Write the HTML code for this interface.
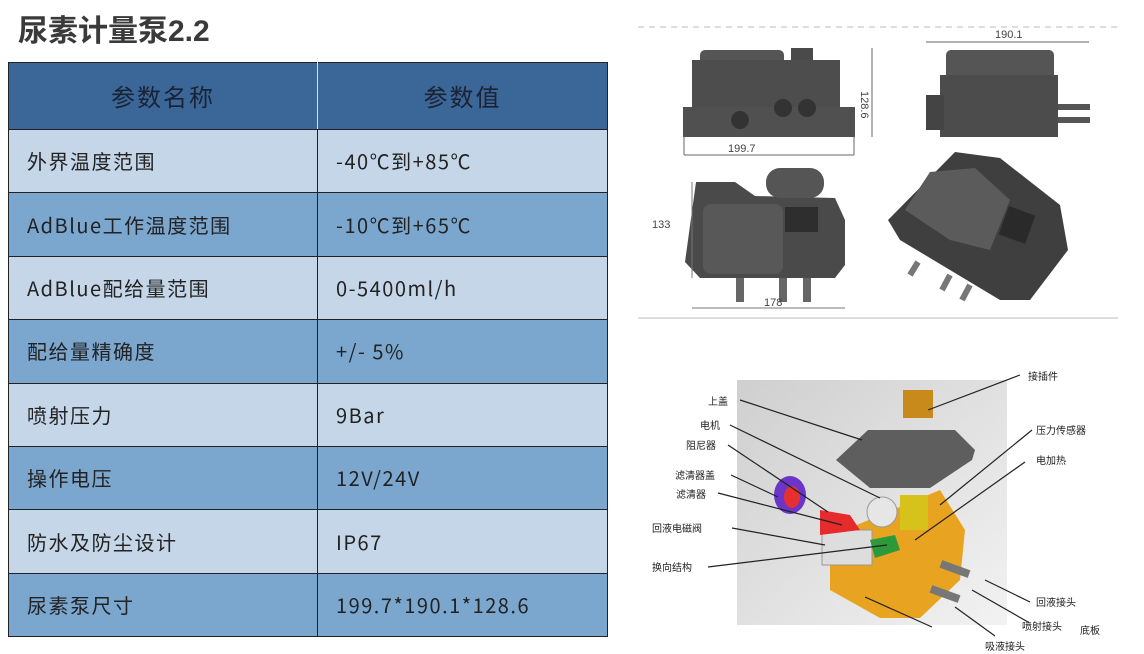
<!DOCTYPE html>
<html><head><meta charset="utf-8"><style>
body{margin:0;width:1144px;height:654px;background:#fff;overflow:hidden;position:relative;font-family:"Liberation Sans","Noto Sans CJK SC",sans-serif}
h1{position:absolute;left:18px;top:6px;margin:0;font-size:30px;font-weight:bold;color:#3a3a3a;letter-spacing:0}
table{position:absolute;left:8px;top:62px;border-collapse:collapse;width:600px}
td{border:1.5px solid #222;height:62.4px;font-size:20px;line-height:24px;vertical-align:middle;color:#222;letter-spacing:1.5px;padding:0 0 0 18px;font-family:"Noto Sans CJK SC",sans-serif}
td:first-child{width:290px}
tr.h td{background:#3a6698;height:66px;text-align:center;font-size:24px;padding:0;color:#1a2233;letter-spacing:2px}
tr.h td:first-child{border-right:1px solid #ddd}
tr.l td{background:#c5d6e8}
tr.m td{background:#7ba7cf}
svg{position:absolute;left:0;top:0}
</style></head><body>
<h1>尿素计量泵2.2</h1>
<table>
<tr class="h"><td>参数名称</td><td>参数值</td></tr>
<tr class="l"><td>外界温度范围</td><td>-40℃到+85℃</td></tr>
<tr class="m"><td>AdBlue工作温度范围</td><td>-10℃到+65℃</td></tr>
<tr class="l"><td>AdBlue配给量范围</td><td>0-5400ml/h</td></tr>
<tr class="m"><td>配给量精确度</td><td>+/- 5%</td></tr>
<tr class="l"><td>喷射压力</td><td>9Bar</td></tr>
<tr class="m"><td>操作电压</td><td>12V/24V</td></tr>
<tr class="l"><td>防水及防尘设计</td><td>IP67</td></tr>
<tr class="m"><td>尿素泵尺寸</td><td>199.7*190.1*128.6</td></tr>
</table>
<svg width="1144" height="654" font-family="Liberation Sans,Noto Sans CJK SC,sans-serif">
<line x1="638" y1="27" x2="1118" y2="27" stroke="#bbb" stroke-dasharray="6,5"/>
<line x1="638" y1="318" x2="1118" y2="318" stroke="#ddd" stroke-width="2"/>
<rect x="700" y="50" width="84" height="40" rx="5" fill="#555"/>
<rect x="791" y="48" width="22" height="20" fill="#4a4a4a"/>
<rect x="692" y="60" width="148" height="50" fill="#4d4d4d"/>
<rect x="683" y="107" width="172" height="30" fill="#505050"/>
<circle cx="740" cy="120" r="9" fill="#333"/><circle cx="783" cy="108" r="9" fill="#333"/><circle cx="807" cy="108" r="9" fill="#333"/>
<line x1="684" y1="155" x2="854" y2="155" stroke="#666"/><line x1="684" y1="137" x2="684" y2="155" stroke="#666"/><line x1="854" y1="137" x2="854" y2="155" stroke="#666"/>
<text x="728" y="152" font-size="11" fill="#444">199.7</text>
<line x1="872" y1="48" x2="872" y2="137" stroke="#666"/><text x="862" y="100" font-size="11" fill="#444" transform="rotate(90 866 95)">128.6</text>
<rect x="946" y="50" width="108" height="40" rx="5" fill="#555"/>
<rect x="940" y="75" width="118" height="62" fill="#4c4c4c"/>
<rect x="926" y="95" width="18" height="35" fill="#444"/>
<rect x="1058" y="104" width="32" height="6" fill="#555"/><rect x="1058" y="117" width="32" height="6" fill="#555"/>
<line x1="926" y1="42" x2="1089" y2="42" stroke="#666"/><text x="995" y="38" font-size="11" fill="#444">190.1</text>
<path d="M696 182 L735 182 L755 196 L835 198 L845 220 L845 265 L835 278 L700 278 L685 262 Z" fill="#4a4a4a"/>
<rect x="766" y="168" width="58" height="30" rx="14" fill="#555"/>
<rect x="703" y="204" width="80" height="70" rx="8" fill="#585858"/>
<rect x="785" y="207" width="33" height="25" fill="#2e2e2e"/>
<rect x="736" y="278" width="8" height="24" fill="#666"/><rect x="779" y="278" width="8" height="24" fill="#666"/><rect x="803" y="278" width="8" height="24" fill="#666"/>
<line x1="692" y1="182" x2="692" y2="278" stroke="#777"/><text x="652" y="228" font-size="11" fill="#444">133</text>
<line x1="692" y1="308" x2="845" y2="308" stroke="#777"/><text x="764" y="306" font-size="11" fill="#444">178</text>
<path d="M955 152 L1000 158 L1060 205 L1068 250 L1030 300 L1000 300 L900 240 L888 220 Z" fill="#3f3f3f"/>
<path d="M930 172 L975 168 L1010 200 L990 250 L950 240 L905 210 Z" fill="#5b5b5b"/>
<rect x="1003" y="210" width="28" height="30" fill="#2a2a2a" transform="rotate(20 1017 225)"/>
<line x1="918" y1="262" x2="910" y2="275" stroke="#777" stroke-width="6"/><line x1="950" y1="275" x2="942" y2="290" stroke="#777" stroke-width="6"/><line x1="970" y1="285" x2="962" y2="300" stroke="#777" stroke-width="6"/>
<defs><linearGradient id="g" x1="0" y1="0" x2="1" y2="1"><stop offset="0" stop-color="#cfcfcf"/><stop offset="1" stop-color="#f2f2f2"/></linearGradient></defs>
<rect x="737" y="380" width="270" height="245" fill="url(#g)"/>
<path d="M836 460 L868 430 L955 430 L975 450 L972 460 L930 488 L870 488 Z" fill="#5e5e5e"/>
<rect x="903" y="390" width="30" height="28" fill="#c98a1c"/>
<path d="M830 550 L840 532 L940 490 L965 530 L960 580 L920 618 L880 618 L830 590 Z" fill="#e8a420"/>
<rect x="822" y="530" width="50" height="35" fill="#ddd" stroke="#999"/>
<circle cx="882" cy="512" r="15" fill="#e6e6e6" stroke="#999"/>
<rect x="900" y="495" width="28" height="35" fill="#d6c21a"/>
<ellipse cx="790" cy="495" rx="16" ry="19" fill="#6a35c8"/><ellipse cx="792" cy="497" rx="8" ry="11" fill="#e63030"/>
<path d="M820 510 L850 515 L860 530 L820 535 Z" fill="#e52b2b"/>
<path d="M870 540 L895 535 L900 550 L875 558 Z" fill="#2c9a3a"/>
<rect x="940" y="565" width="30" height="8" fill="#777" transform="rotate(20 955 569)"/>
<rect x="930" y="590" width="30" height="8" fill="#777" transform="rotate(20 945 594)"/>
<g stroke="#222" stroke-width="1.2" fill="none">
<line x1="1020" y1="375" x2="928" y2="410"/><line x1="740" y1="400" x2="862" y2="440"/>
<line x1="730" y1="425" x2="880" y2="498"/><line x1="728" y1="445" x2="828" y2="512"/>
<line x1="731" y1="475" x2="778" y2="497"/><line x1="718" y1="493" x2="842" y2="525"/>
<line x1="732" y1="528" x2="825" y2="545"/><line x1="708" y1="567" x2="887" y2="545"/>
<line x1="1032" y1="430" x2="940" y2="505"/><line x1="1025" y1="462" x2="915" y2="540"/>
<line x1="1030" y1="602" x2="985" y2="580"/><line x1="1028" y1="622" x2="972" y2="590"/>
<line x1="995" y1="636" x2="955" y2="607"/><line x1="932" y1="627" x2="865" y2="597"/>
</g>
<g font-size="10" fill="#222">
<text x="1028" y="380">接插件</text><text x="708" y="405">上盖</text><text x="700" y="429">电机</text>
<text x="686" y="449">阻尼器</text><text x="675" y="479">滤清器盖</text><text x="676" y="498">滤清器</text>
<text x="652" y="532">回液电磁阀</text><text x="652" y="571">换向结构</text>
<text x="1036" y="434">压力传感器</text><text x="1036" y="464">电加热</text>
<text x="1036" y="606">回液接头</text><text x="1022" y="630">喷射接头</text><text x="1080" y="634">底板</text>
<text x="985" y="650">吸液接头</text>
</g>
</svg>
</body></html>
